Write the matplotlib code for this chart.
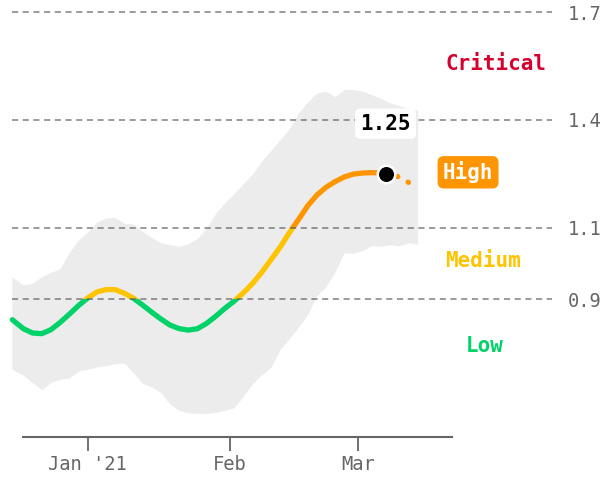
import matplotlib.pyplot as plt
from matplotlib.patches import Rectangle

# days counted from 1 Jan 2021
band_days = [-16.5, -14, -12, -10, -8, -6, -4, -2, 0, 2, 4, 6, 8, 10, 12, 14, 16, 18,
             20, 22, 24, 26, 28, 30, 32, 34, 36, 38, 40, 42, 44, 46, 48, 50, 52, 54,
             56, 58, 60, 62, 64, 66, 68, 70, 72]
band_high = [0.962, 0.94, 0.945, 0.963, 0.975, 0.985, 1.03, 1.065, 1.087, 1.115, 1.127,
             1.128, 1.112, 1.110, 1.09, 1.072, 1.058, 1.052, 1.048, 1.055, 1.07, 1.10,
             1.14, 1.17, 1.195, 1.223, 1.25, 1.285, 1.315, 1.345, 1.375, 1.42, 1.45,
             1.475, 1.48, 1.465, 1.485, 1.485, 1.48, 1.47, 1.46, 1.447, 1.44, 1.432, 1.428]
band_low = [0.705, 0.688, 0.668, 0.648, 0.668, 0.677, 0.680, 0.700, 0.705, 0.711, 0.715,
            0.72, 0.722, 0.695, 0.665, 0.656, 0.64, 0.607, 0.59, 0.583, 0.582, 0.582,
            0.585, 0.59, 0.598, 0.63, 0.665, 0.69, 0.71, 0.76, 0.79, 0.822, 0.858, 0.91,
            0.935, 0.977, 1.03, 1.028, 1.036, 1.05, 1.048, 1.052, 1.049, 1.058, 1.053]

line_days = [-16.4, -14, -12, -10, -8, -6, -4, -2, 0, 2, 4, 6, 8, 10, 12, 14, 16, 18, 20,
             22, 24, 26, 28, 30, 32, 34, 36, 38, 40, 42, 44, 46, 48, 50, 52, 54, 56, 58,
             60, 62, 64, 65]
line_vals = [0.843, 0.818, 0.806, 0.804, 0.815, 0.835, 0.858, 0.882, 0.903, 0.920, 0.927,
             0.927, 0.917, 0.903, 0.884, 0.864, 0.845, 0.828, 0.818, 0.814, 0.818, 0.833,
             0.853, 0.875, 0.895, 0.918, 0.944, 0.975, 1.01, 1.045, 1.085, 1.122, 1.160,
             1.190, 1.212, 1.228, 1.241, 1.249, 1.252, 1.253, 1.252, 1.25]

proj_days = [65, 67.5, 70]
proj_vals = [1.25, 1.243, 1.226]

thresholds = [0.9, 1.1, 1.4, 1.7]
tick_days = [0, 31, 59]
tick_labels = ["Jan '21", "Feb", "Mar"]

levels = ['Low', 'Medium', 'High', 'Critical']
level_colors = ['#00d26a', '#ffc400', '#ff9500', '#d6002f']
level_bounds = [(0.0, 0.9), (0.9, 1.1), (1.1, 1.4), (1.4, 3.0)]

plt.rcParams['font.family'] = 'DejaVu Sans Mono'

fig = plt.figure(figsize=(6.14, 4.78), dpi=100)
ax = fig.add_axes([12 / 614, 41 / 478, 540 / 614, 432 / 478])
ax.set_xlim(-16.47, 101.31)
ax.set_ylim(0.516, 1.7204)

ax.fill_between(band_days, band_low, band_high, color='#ececec', lw=0, zorder=1)

# line coloured by level, clipped to each band
for (lo, hi), c in zip(level_bounds[:3], level_colors[:3]):
    ln, = ax.plot(line_days, line_vals, color=c, lw=3.8, solid_capstyle='round',
                  solid_joinstyle='round', zorder=3)
    clip = Rectangle((-100, lo), 300, hi - lo, transform=ax.transData)
    ln.set_clip_path(clip)

ax.plot(proj_days, proj_vals, color=level_colors[2], lw=3.8,
        linestyle=(0, (0.1, 2.2)), dash_capstyle='round', zorder=3)
ax.plot(line_days[-1], line_vals[-1], 'o', ms=12.6, mfc='black', mec='white',
        mew=1.8, zorder=6)
ax.annotate('%.2f' % line_vals[-1], xy=(line_days[-1], line_vals[-1]),
            xytext=(0, 36), textcoords='offset points', ha='center', va='center',
            fontsize=15, fontweight='bold', color='black', zorder=7,
            bbox=dict(boxstyle='round,pad=0.25', fc='white', ec='none'))

# threshold lines
for t in thresholds:
    ax.axhline(t, color='#555555', alpha=0.75, lw=1.1, linestyle=(0, (4, 3)), zorder=4)

# level labels
ax.text(89.1, 1.557, levels[3], color=level_colors[3], fontsize=15,
        fontweight='bold', ha='center', va='center')
ax.text(83.0, 1.254, levels[2], color='white', fontsize=15, fontweight='bold',
        ha='center', va='center',
        bbox=dict(boxstyle='round,pad=0.25,rounding_size=0.3',
                  fc=level_colors[2], ec='none'))
ax.text(86.3, 1.007, levels[1], color=level_colors[1], fontsize=15,
        fontweight='bold', ha='center', va='center')
ax.text(86.7, 0.771, levels[0], color=level_colors[0], fontsize=15,
        fontweight='bold', ha='center', va='center')

for s in ['top', 'left', 'right']:
    ax.spines[s].set_visible(False)
ax.spines['bottom'].set_bounds(-14.07, 79.5)
ax.spines['bottom'].set_color('#666666')
ax.spines['bottom'].set_linewidth(1.5)

ax.set_xticks(tick_days)
ax.set_xticklabels(tick_labels)
ax.tick_params(axis='x', direction='out', length=10, width=1.3, color='#666666',
               labelcolor='#666666', labelsize=13.5, pad=3)

ax.yaxis.tick_right()
ax.set_yticks(thresholds)
ax.set_yticklabels(['%.1f' % t for t in thresholds])
ax.tick_params(axis='y', length=0, labelcolor='#666666', labelsize=13.5, pad=11.5)

plt.savefig('out.png', dpi=100)
plt.close()
